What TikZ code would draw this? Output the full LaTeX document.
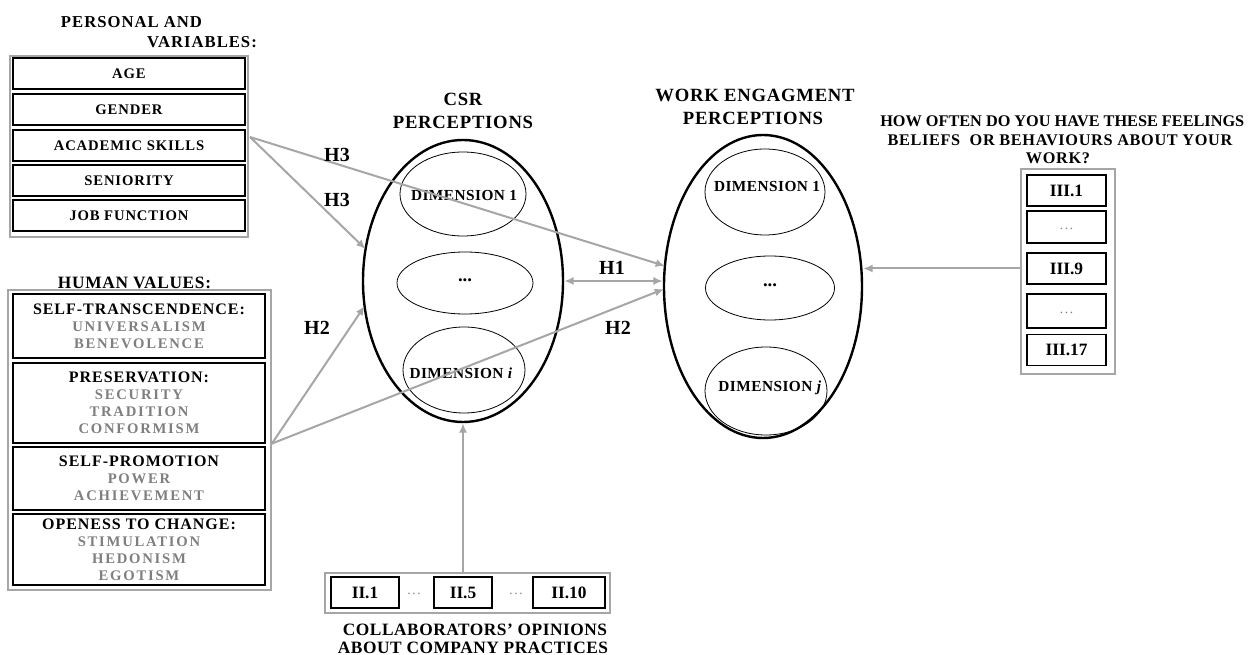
\documentclass[tikz,border=0pt]{standalone}
\usepackage{fontspec}
\setmainfont{Liberation Serif}
\newfontfamily\fA{Liberation Serif}[LetterSpace=6]
\newfontfamily\fB{Liberation Serif}[LetterSpace=12]
\newfontfamily\fC{Liberation Serif}[LetterSpace=3]
\newfontfamily\fD{Liberation Serif}[LetterSpace=4]
\usetikzlibrary{shapes.geometric,arrows.meta,calc}
\definecolor{lgray}{HTML}{A6A6A6}
\definecolor{tgray}{HTML}{7F7F7F}
\newcommand\hdr[1]{{\color{black}\fA\fontsize{12}{12.75}\selectfont #1}}
\begin{document}
\begin{tikzpicture}[x=0.75pt,y=-0.75pt,
  obox/.style={draw=lgray,line width=1.3pt,inner sep=0pt},
  ibox/.style={draw=black,line width=0.9pt,inner sep=0pt},
  pbox/.style={ibox,minimum width=174pt,minimum height=23.25pt,font=\fA\bfseries\fontsize{11}{12}\selectfont},
  valbox/.style={ibox,minimum width=189pt,align=center,text=tgray,font=\fB\bfseries\fontsize{11}{12.75}\selectfont},
  qbox/.style={ibox,minimum width=59.25pt,minimum height=23.25pt,font=\bfseries\fontsize{13}{14}\selectfont},
  dotf/.style={text=tgray,font=\fB\fontsize{10}{10}\selectfont},
  ell/.style={ellipse,draw,inner sep=0pt,line width=0.6pt},
  bigell/.style={ellipse,draw,inner sep=0pt,line width=1.8pt},
  dimf/.style={font=\fC\bfseries\fontsize{11.5}{12}\selectfont},
  ttl/.style={font=\fD\bfseries\fontsize{14}{16}\selectfont},
  ptl/.style={font=\fA\bfseries\fontsize{12.5}{14}\selectfont},
  qf/.style={font=\bfseries\fontsize{12.2}{14}\selectfont,inner sep=0pt},
  qfs/.style={font=\fD\bfseries\fontsize{12.2}{14}\selectfont,inner sep=0pt},
  collab/.style={font=\fC\bfseries\fontsize{13}{14}\selectfont,inner sep=0pt},
  hlab/.style={font=\bfseries\fontsize{15}{16}\selectfont},
  arr/.style={draw=lgray,line width=1.5pt,-{Latex[length=7pt,width=6pt]}},
  darr/.style={draw=lgray,line width=1.5pt,{Latex[length=7pt,width=6pt]}-{Latex[length=7pt,width=6pt]}}]
\fill[white] (0,0) rectangle (1254,655);
\useasboundingbox (0,0) rectangle (1254,655);

% Personal variables
\node[ptl] (pt1) at (131.5,22) {PERSONAL AND};
\node[ptl] (pt2) at (202,42) {VARIABLES:};
\node[obox,minimum width=178.5pt,minimum height=135.75pt] (pers) at (129,146.5) {};
\node[pbox] (age) at (129,73.5) {AGE};
\node[pbox] (gender) at (129,109.5) {GENDER};
\node[pbox] (acad) at (129,145.5) {ACADEMIC SKILLS};
\node[pbox] (sen) at (129,180.5) {SENIORITY};
\node[pbox] (job) at (129,215.5) {JOB FUNCTION};

% Human values
\node[font=\fD\bfseries\fontsize{13}{15}\selectfont] (hvt) at (134.5,283) {HUMAN VALUES:};
\node[obox,minimum width=197.25pt,minimum height=225pt] (hv) at (139.5,440) {};
\node[valbox,minimum height=48pt] (st) at (139,326) {\hdr{SELF-TRANSCENDENCE:}\\UNIVERSALISM\\BENEVOLENCE};
\node[valbox,minimum height=60pt] (pr) at (139,403) {\hdr{PRESERVATION:}\\SECURITY\\TRADITION\\CONFORMISM};
\node[valbox,minimum height=47.25pt] (sp) at (139,478.5) {\hdr{SELF-PROMOTION}\\POWER\\ACHIEVEMENT};
\node[valbox,minimum height=53.25pt] (oc) at (139,549.5) {\hdr{OPENESS TO CHANGE:}\\STIMULATION\\HEDONISM\\EGOTISM};

% CSR perceptions
\node[ttl] (csrt1) at (463,99) {CSR};
\node[ttl] (csrt2) at (463,122) {PERCEPTIONS};
\node[bigell,minimum width=150pt,minimum height=211.5pt] (csr) at (463,281) {};
\node[ell,minimum width=94.5pt,minimum height=63pt] (c1) at (463,194) {};
\node[ell,minimum width=102pt,minimum height=46.5pt] (c2) at (465,283) {};
\node[ell,minimum width=91.5pt,minimum height=64.5pt] (c3) at (464,370) {};
\node[dimf] (c1t) at (464,196) {DIMENSION 1};
\node[font=\bfseries\fontsize{14}{14}\selectfont] (c2t) at (465,280) {...};
\node[dimf] (c3t) at (461,373) {DIMENSION \textit{i}};

% Work engagement perceptions
\node[ttl] (wet1) at (755,95) {WORK ENGAGMENT};
\node[ttl] (wet2) at (753,118) {PERCEPTIONS};
\node[bigell,minimum width=148.5pt,minimum height=227.25pt] (we) at (763,286.5) {};
\node[ell,minimum width=90pt,minimum height=64.5pt] (w1) at (765,192) {};
\node[ell,minimum width=96.75pt,minimum height=48pt] (w2) at (770,288) {};
\node[ell,minimum width=91.5pt,minimum height=66pt] (w3) at (766,391) {};
\node[dimf] (w1t) at (767,187) {DIMENSION 1};
\node[font=\bfseries\fontsize{14}{14}\selectfont] (w2t) at (770,285) {...};
\node[dimf] (w3t) at (770,388) {DIMENSION \textit{j}};

% Question and items III
\node[qf,anchor=west] (q1) at (880,121) {HOW OFTEN DO YOU HAVE THESE FEELINGS};
\node[qfs] (q2) at (1060,140) {BELIEFS\ \ OR BEHAVIOURS ABOUT YOUR};
\node[qfs] (q3) at (1058,158) {WORK?};
\node[obox,minimum width=70.5pt,minimum height=153.75pt] (iiibox) at (1068,271.5) {};
\node[qbox] (iii1) at (1066.5,190.5) {III.1};
\node[qbox,minimum height=24pt] (iiid1) at (1066.5,227) {};
\node[dotf] (iiid1t) at (1066.5,229) {...};
\node[qbox] (iii9) at (1066.5,268.5) {III.9};
\node[qbox,minimum height=25.5pt] (iiid2) at (1066.5,311) {};
\node[dotf] (iiid2t) at (1066.5,313) {...};
\node[qbox] (iii17) at (1066.5,350) {III.17};

% Items II
\node[obox,minimum width=213.75pt,minimum height=30pt] (iibox) at (467.5,593) {};
\node[qbox,minimum width=51pt] (ii1) at (365,592.5) {II.1};
\node[qbox,minimum width=43.5pt] (ii5) at (463,592.5) {II.5};
\node[qbox,minimum width=54pt] (ii10) at (569,592.5) {II.10};
\node[dotf] (iid1) at (414,594) {...};
\node[dotf] (iid2) at (516,594) {...};
\node[collab] (col1) at (475,630) {COLLABORATORS’ OPINIONS};
\node[collab] (col2) at (473,648) {ABOUT COMPANY PRACTICES};

% Connectors
\coordinate (ps) at (250,137);
\coordinate (hs) at (hv.east |- pr.south);
\coordinate (weA) at (665,266);
\coordinate (csrA) at (365.5,249);
\coordinate (csrB) at (364.6,306);
\coordinate (weB) at (664,289);
\draw[arr] (ps) -- (weA);
\draw[arr] (ps) -- (csrA);
\draw[arr] (hs) -- (csrB);
\draw[arr] (hs) -- (weB);
\draw[darr] (csr.east) -- (csr.east -| we.west);
\draw[arr] (ii5 |- iibox.north) -- (csr.south);
\draw[arr] (iiibox.west |- iii9) -- (we.east |- iii9);

% Hypothesis labels
\node[hlab] (h3a) at (337,155) {H3};
\node[hlab] (h3b) at (337,200) {H3};
\node[hlab] (h2a) at (317,328) {H2};
\node[hlab] (h2b) at (618,328) {H2};
\node[hlab] (h1) at (612,268) {H1};
\end{tikzpicture}
\end{document}
